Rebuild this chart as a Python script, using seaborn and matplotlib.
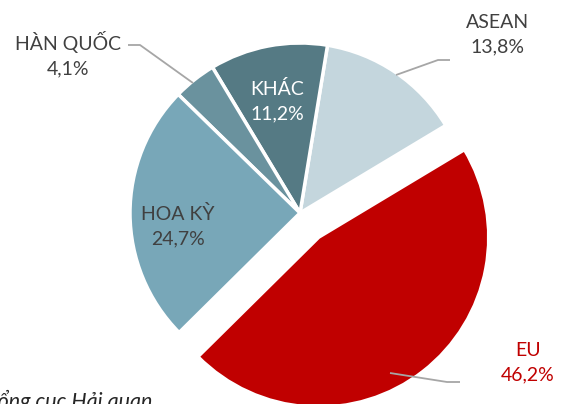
import matplotlib
matplotlib.use("Agg")
import matplotlib.pyplot as plt
import seaborn as sns

# Cơ cấu thị trường (%)
labels = ["ASEAN", "KHÁC", "HÀN QUỐC", "HOA KỲ", "EU"]
values = [13.8, 11.2, 4.1, 24.7, 46.2]
colors = ["#c4d6dd", "#557a84", "#6a929e", "#78a7b8", "#c00000"]
explode = [0, 0, 0, 0, 0.18]

sns.set_theme(style="white")
plt.rcParams["font.family"] = ["Lato", "DejaVu Sans"]

W, H = 567, 404
CX, CY, R = 300, 213, 170   # tâm và bán kính bánh (pixel)


def px(x, y):
    # đổi toạ độ pixel sang toạ độ dữ liệu của bánh
    return (x - CX) / R, (CY - y) / R


fig = plt.figure(figsize=(W / 100, H / 100), dpi=100)
ax = fig.add_axes([0, 0, 1, 1])
ax.pie(values, colors=colors, explode=explode, startangle=31,
       counterclock=True,
       wedgeprops=dict(edgecolor="white", linewidth=2.5))
ax.set_xlim(-CX / R, (W - CX) / R)
ax.set_ylim(-(H - CY) / R, CY / R)
ax.set_aspect("equal")
ax.axis("off")

gray = "#404040"
fs = 14

def pct(v):
    return f"{v:.1f}".replace(".", ",") + "%"

# nhãn
text_pos = {
    "ASEAN": ((497, 35), gray),
    "KHÁC": ((277, 101), "white"),
    "HÀN QUỐC": ((68, 54), gray),
    "HOA KỲ": ((178, 226), gray),
    "EU": ((528, 363), "#c00000"),
}
for lab, v in zip(labels, values):
    (x, y), c = text_pos[lab]
    ax.text(*px(x, y), f"{lab}\n{pct(v)}", ha="center", va="center",
            color=c, fontsize=fs, linespacing=1.5, multialignment="center")

# đường dẫn
lc = "#a6a6a6"
leaders = [
    [(128, 45), (140, 45), (193, 83)],
    [(396, 75), (438, 60), (450, 60)],
    [(390, 373), (447, 382), (460, 382)],
]
for pts in leaders:
    xs, ys = zip(*[px(*p) for p in pts])
    ax.plot(xs, ys, color=lc, lw=1.3, solid_capstyle="butt")

# nguồn (bị cắt ở mép như trong ảnh gốc)
ax.text(*px(152, 390), "Nguồn: Tổng cục Hải quan", ha="right", va="top",
        fontsize=15.5, style="italic", color="#262626")

fig.savefig("out.png", dpi=100)
